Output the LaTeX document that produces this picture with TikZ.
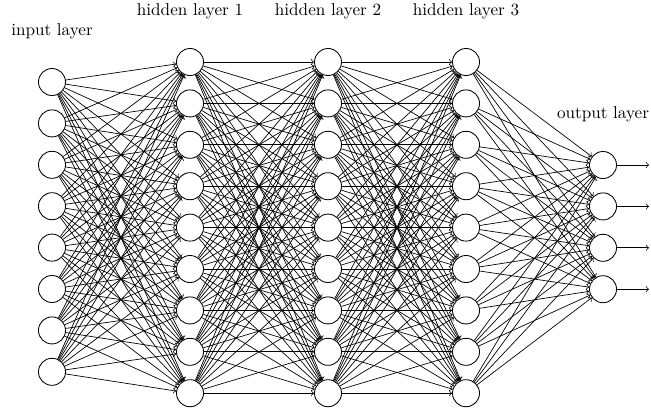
\documentclass[tikz,border=0pt]{standalone}
\begin{document}
\begin{tikzpicture}[x=0.584pt,y=-0.584pt,
  neuron/.style={circle,draw,line width=0.5pt,minimum size=15.8pt,inner sep=0pt,fill=white},
  conn/.style={->,line width=0.4pt},
  lbl/.style={anchor=base,inner sep=0pt}]
\useasboundingbox (0,0) rectangle (651,411);
\foreach \i in {1,...,8} \node[neuron] (I-\i) at (52,{82+41.4*(\i-1)}) {};
\foreach \l/\x in {1/190,2/328,3/466}
  \foreach \j in {1,...,9} \node[neuron] (H\l-\j) at (\x,{62+41.4*(\j-1)}) {};
\foreach \k in {1,...,4} \node[neuron] (O-\k) at (603,{165+41.4*(\k-1)}) {};
\foreach \i in {1,...,8} \foreach \j in {1,...,9} \draw[conn] (I-\i) -- (H1-\j);
\foreach \a/\b in {1/2,2/3}
  \foreach \i in {1,...,9} \foreach \j in {1,...,9} \draw[conn] (H\a-\i) -- (H\b-\j);
\foreach \i in {1,...,9} \foreach \k in {1,...,4} \draw[conn] (H3-\i) -- (O-\k);
\foreach \k in {1,...,4} {
  \coordinate (E-\k) at (649,{165+41.4*(\k-1)});
  \draw[conn] (O-\k) -- (E-\k);
}
\node[lbl] (LI) at (52,35) {input layer};
\node[lbl] (L1) at (190,15) {hidden layer 1};
\node[lbl] (L2) at (328,15) {hidden layer 2};
\node[lbl] (L3) at (466,15) {hidden layer 3};
\node[lbl] (LO) at (603,118) {output layer};
\end{tikzpicture}
\end{document}
